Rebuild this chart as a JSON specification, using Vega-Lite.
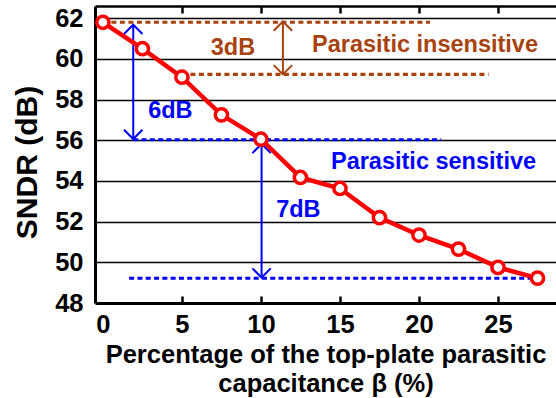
{
  "$schema": "https://vega.github.io/schema/vega-lite/v6.json",
  "width": 461,
  "height": 297,
  "autosize": {"type": "none"},
  "padding": {"left": 95, "top": 6, "right": 0, "bottom": 95},
  "background": "white",
  "config": {
    "view": {"stroke": null},
    "axis": {
      "labelFont": "Liberation Sans", "titleFont": "Liberation Sans",
      "labelFontWeight": "bold", "titleFontWeight": "bold",
      "labelColor": "black", "titleColor": "black",
      "domainColor": "black", "tickColor": "black", "gridColor": "black"
    }
  },
  "datasets": {
    "sndr": [
      {"beta": 0, "sndr": 61.8},
      {"beta": 2.5, "sndr": 60.5},
      {"beta": 5, "sndr": 59.1},
      {"beta": 7.5, "sndr": 57.25},
      {"beta": 10, "sndr": 56.05},
      {"beta": 12.5, "sndr": 54.17},
      {"beta": 15, "sndr": 53.63},
      {"beta": 17.5, "sndr": 52.2},
      {"beta": 20, "sndr": 51.34},
      {"beta": 22.5, "sndr": 50.65},
      {"beta": 25, "sndr": 49.75},
      {"beta": 27.5, "sndr": 49.22}
    ],
    "hlines": [
      {"group": "insensitive", "x1": 0, "x2": 20.7, "y": 61.8},
      {"group": "insensitive", "x1": 5, "x2": 24.4, "y": 59.24},
      {"group": "sensitive", "x1": 1.92, "x2": 21.4, "y": 56.02},
      {"group": "sensitive", "x1": 1.66, "x2": 27.5, "y": 49.22}
    ],
    "arrows": [
      {"group": "insensitive", "x": 11.39, "top": 61.84, "bottom": 59.24},
      {"group": "sensitive", "x": 1.92, "top": 61.68, "bottom": 56.06},
      {"group": "sensitive", "x": 10.04, "top": 55.82, "bottom": 49.25}
    ],
    "labels": [
      {"group": "insensitive", "x": 8.23, "y": 60.55, "text": "3dB"},
      {"group": "insensitive", "x": 20.38, "y": 60.7, "text": "Parasitic insensitive"},
      {"group": "sensitive", "x": 4.27, "y": 57.44, "text": "6dB"},
      {"group": "sensitive", "x": 12.37, "y": 52.56, "text": "7dB"},
      {"group": "sensitive", "x": 20.92, "y": 54.94, "text": "Parasitic sensitive"}
    ]
  },
  "resolve": {"axis": {"x": "independent"}},
  "layer": [
    {
      "layer": [
        {
          "data": {"name": "hlines"},
          "transform": [{"filter": "datum.group == 'insensitive'"}],
          "mark": {"type": "rule", "color": "#A8420F", "strokeWidth": 3.2, "strokeDash": [5, 3.5]},
          "encoding": {
            "x": {"field": "x1", "type": "quantitative", "scale": {"domain": [-0.5, 28.67], "nice": false, "zero": false},
              "axis": {
                "values": [0, 5, 10, 15, 20, 25],
                "orient": "bottom", "grid": false,
                "domainWidth": 3,
                "tickSize": -7, "tickWidth": 2.5,
                "tickOpacity": {"condition": {"test": "datum.value == 0", "value": 0}, "value": 1},
                "labelFontSize": 25.5, "labelPadding": 16,
                "title": ["Percentage of the top-plate parasitic", "capacitance β (%)"],
                "titleFontSize": 25.5, "titleLineHeight": 29, "titlePadding": 5
              }},
            "x2": {"field": "x2"},
            "y": {"field": "y", "type": "quantitative", "scale": {"domain": [48, 62.6], "nice": false, "zero": false},
              "axis": {
                "values": [48, 50, 52, 54, 56, 58, 60, 62],
                "grid": true, "gridWidth": 1.6,
                "gridOpacity": {"condition": {"test": "datum.value < 49", "value": 0}, "value": 1},
                "ticks": false, "domainWidth": 3,
                "labelFontSize": 25.5, "labelPadding": 12,
                "title": "SNDR (dB)", "titleFontSize": 30, "titlePadding": 12, "titleY": 156
              }}
          }
        },
        {
          "data": {"name": "hlines"},
          "transform": [{"filter": "datum.group == 'sensitive'"}],
          "mark": {"type": "rule", "color": "#0000FF", "strokeWidth": 3, "strokeDash": [5, 3.3]},
          "encoding": {
            "x": {"field": "x1", "type": "quantitative"},
            "x2": {"field": "x2"},
            "y": {"field": "y", "type": "quantitative"}
          }
        },
        {
          "data": {"name": "arrows"},
          "mark": {"type": "rule", "strokeWidth": 2},
          "encoding": {
            "x": {"field": "x", "type": "quantitative"},
            "y": {"field": "top", "type": "quantitative"},
            "y2": {"field": "bottom"},
            "color": {"field": "group", "type": "nominal", "scale": {"domain": ["insensitive", "sensitive"], "range": ["#A8420F", "#0000FF"]}, "legend": null}
          }
        },
        {
          "data": {"name": "arrows"},
          "mark": {"type": "point", "shape": "M-1,1L0,0L1,1", "filled": false, "size": 340, "strokeWidth": 2, "opacity": 1},
          "encoding": {
            "x": {"field": "x", "type": "quantitative"},
            "y": {"field": "top", "type": "quantitative"},
            "color": {"field": "group", "type": "nominal", "legend": null}
          }
        },
        {
          "data": {"name": "arrows"},
          "mark": {"type": "point", "shape": "M-1,-1L0,0L1,-1", "filled": false, "size": 340, "strokeWidth": 2, "opacity": 1},
          "encoding": {
            "x": {"field": "x", "type": "quantitative"},
            "y": {"field": "bottom", "type": "quantitative"},
            "color": {"field": "group", "type": "nominal", "legend": null}
          }
        },
        {
          "data": {"name": "sndr"},
          "mark": {"type": "line", "color": "#FF0000", "strokeWidth": 4.5},
          "encoding": {
            "x": {"field": "beta", "type": "quantitative"},
            "y": {"field": "sndr", "type": "quantitative"}
          }
        },
        {
          "data": {"name": "sndr"},
          "mark": {"type": "point", "shape": "circle", "filled": true, "fill": "white", "stroke": "#FF0000", "strokeWidth": 3.5, "size": 150, "opacity": 1},
          "encoding": {
            "x": {"field": "beta", "type": "quantitative"},
            "y": {"field": "sndr", "type": "quantitative"}
          }
        },
        {
          "data": {"name": "labels"},
          "mark": {"type": "text", "font": "Liberation Sans", "fontWeight": "bold", "fontSize": 23.5, "align": "center", "baseline": "middle"},
          "encoding": {
            "x": {"field": "x", "type": "quantitative"},
            "y": {"field": "y", "type": "quantitative"},
            "text": {"field": "text"},
            "color": {"field": "group", "type": "nominal", "legend": null}
          }
        }
      ]
    },
    {
      "data": {"name": "sndr"},
      "mark": {"type": "point", "opacity": 0},
      "encoding": {
        "x": {"field": "beta", "type": "quantitative",
          "axis": {"orient": "top", "values": [5, 10, 15, 20, 25], "labels": false, "title": null, "grid": false,
            "domainWidth": 2.5, "tickSize": -7, "tickWidth": 2.5}},
        "y": {"field": "sndr", "type": "quantitative",
          "axis": {
            "values": [48, 50, 52, 54, 56, 58, 60, 62],
            "grid": true, "gridWidth": 1.6,
            "gridOpacity": {"condition": {"test": "datum.value < 49", "value": 0}, "value": 1},
            "ticks": false, "domainWidth": 3,
            "labelFontSize": 25.5, "labelPadding": 12,
            "title": "SNDR (dB)", "titleFontSize": 30, "titlePadding": 12, "titleY": 156
          }}
      }
    }
  ]
}
